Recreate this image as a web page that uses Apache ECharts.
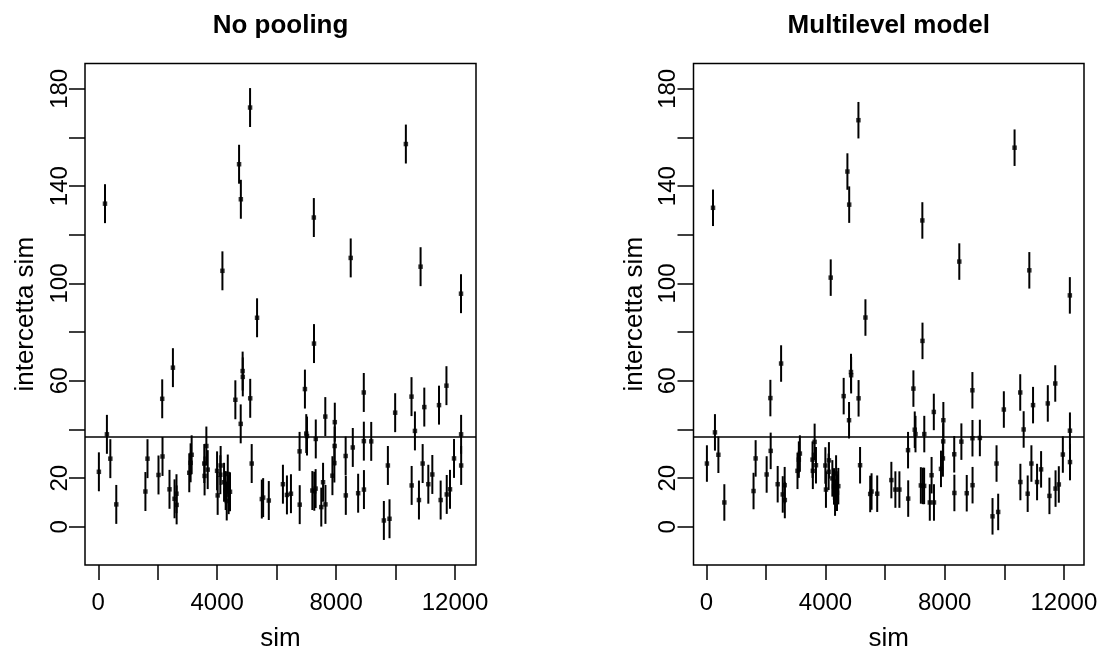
<!DOCTYPE html>
<html>
<head>
<meta charset="utf-8">
<title>intercetta sim</title>
<script src="https://cdn.jsdelivr.net/npm/echarts@6/dist/echarts.min.js"></script>
<style>
  html, body { margin: 0; padding: 0; background: #fff; }
  #chart { width: 1107px; height: 654px; }
</style>
</head>
<body>
<div id="chart"></div>
<script>
// Simulation index of each group (shared by both panels)
const sim = [
  20, 225, 290, 405, 605, 1585, 1655, 2025, 2150, 2160,
  2395, 2510, 2565, 2630, 2635, 3060, 3105, 3140, 3565, 3575,
  3635, 3680, 3995, 4015, 4105, 4115, 4175, 4230, 4285, 4320,
  4355, 4385, 4430, 4610, 4735, 4790, 4795, 4855, 4860, 5105,
  5110, 5160, 5340, 5500, 5545, 5735, 6210, 6345, 6480, 6770,
  6775, 6950, 6995, 7020, 7200, 7250, 7255, 7265, 7310, 7315,
  7500, 7560, 7635, 7640, 7875, 7940, 7950, 7955, 8320, 8325,
  8490, 8560, 8740, 8930, 8932, 8935, 9180, 9605, 9740, 9795,
  9985, 10345, 10535, 10540, 10650, 10785, 10840, 10910, 10965, 11100,
  11235, 11460, 11515, 11710, 11720, 11830, 11965, 12200, 12203, 12205
];

// No pooling: intercept estimate per group
const noPooling = [
  22.6, 132.8, 38.0, 28.0, 9.2, 14.5, 28.0, 21.3, 52.6, 28.9,
  15.4, 65.4, 11.5, 13.6, 9.0, 22.2, 26.3, 29.6, 26.0, 20.9,
  33.2, 23.5, 23.0, 12.9, 21.4, 25.2, 105.2, 18.3, 14.9, 10.6,
  21.7, 13.2, 14.4, 52.2, 149.0, 42.3, 134.6, 64.0, 61.6, 172.3,
  52.8, 26.0, 85.9, 11.4, 12.0, 10.8, 17.5, 13.1, 13.6, 31.0,
  9.1, 56.6, 38.3, 37.3, 14.9, 127.1, 75.3, 14.6, 15.7, 36.1,
  8.1, 18.3, 45.3, 9.2, 21.0, 26.2, 33.2, 43.0, 29.1, 12.9,
  110.5, 32.6, 13.8, 55.2, 35.2, 15.3, 35.1, 2.6, 25.2, 3.3,
  46.9, 157.3, 53.5, 17.0, 39.4, 11.0, 106.9, 26.0, 49.2, 17.5,
  21.5, 50.0, 11.0, 58.0, 13.3, 15.4, 28.1, 95.8, 38.0, 25.2
];

// Multilevel model: intercept estimate per group
const multilevel = [
  26.0, 131.1, 38.8, 29.6, 10.0, 14.7, 28.1, 21.5, 52.9, 31.2,
  17.5, 67.1, 13.3, 17.1, 11.0, 23.0, 27.6, 30.1, 27.6, 23.0,
  34.9, 25.3, 25.2, 15.3, 22.6, 27.3, 102.4, 19.9, 16.6, 12.0,
  21.9, 14.0, 16.7, 53.7, 146.0, 43.8, 132.4, 63.6, 62.3, 167.1,
  52.8, 25.3, 86.0, 13.5, 14.5, 13.6, 19.2, 15.3, 15.3, 31.5,
  11.6, 56.8, 39.9, 38.1, 17.0, 125.9, 76.4, 16.8, 16.8, 38.1,
  10.0, 21.2, 47.2, 10.0, 23.8, 28.1, 35.1, 43.8, 29.8, 13.9,
  109.0, 35.0, 13.8, 56.1, 36.4, 17.1, 36.5, 4.3, 26.0, 6.1,
  48.2, 155.8, 55.2, 18.4, 40.0, 13.6, 105.4, 26.0, 50.0, 18.4,
  23.6, 50.7, 12.7, 58.9, 15.7, 17.4, 29.7, 95.1, 39.5, 26.6
];

// Half-length of each vertical interval (estimate +/- 1 se)
const noPoolingSe = 8;
const multilevelSe = 7.5;

// Reference line (overall mean intercept)
const refLine = 37;

// Axis ticks and the ticks that carry a label
const xTicks = [0, 2000, 4000, 6000, 8000, 10000, 12000];
const xLabels = [0, 4000, 8000, 12000];
const yTicks = [0, 20, 40, 60, 80, 100, 120, 140, 160, 180];
const yLabels = [0, 20, 60, 100, 140, 180];

const panelTitles = ['No pooling', 'Multilevel model'];
const xName = 'sim';
const yName = 'intercetta sim';

const FONT = '"Liberation Sans", Arial, Helvetica, sans-serif';

const grids = [
  { left: 85, top: 63.5, width: 391, height: 501.5 },
  { left: 693.5, top: 63.5, width: 390.5, height: 501.5 }
];
const xRanges = [[-447, 12704], [-430, 12675]];
const yRange = [-15.7, 190.4];

function intervals(est, se) {
  return sim.map((s, i) => [s, est[i] - se, est[i] + se]);
}
function points(est) {
  return sim.map((s, i) => [s, est[i]]);
}

function errorBarRender(params, api) {
  const x = api.value(0);
  const a = api.coord([x, api.value(1)]);
  const b = api.coord([x, api.value(2)]);
  return {
    type: 'line',
    shape: { x1: a[0], y1: a[1], x2: b[0], y2: b[1] },
    style: { stroke: '#000', lineWidth: 2 }
  };
}

const plain = v => String(v);

function makeXAxis(i) {
  return {
    type: 'value', gridIndex: i, position: 'bottom',
    min: xRanges[i][0], max: xRanges[i][1],
    splitLine: { show: false },
    axisLine: { show: false, onZero: false },
    axisTick: { show: true, length: 15, customValues: xTicks,
                lineStyle: { color: '#000', width: 1.5 } },
    axisLabel: { customValues: xLabels, formatter: plain, color: '#000', fontSize: 24,
                 fontFamily: FONT, margin: 26 },
    name: xName, nameLocation: 'middle', nameGap: 61,
    nameTextStyle: { color: '#000', fontSize: 26, fontFamily: FONT }
  };
}
function makeYAxis(i) {
  return {
    type: 'value', gridIndex: i, position: 'left',
    min: yRange[0], max: yRange[1],
    splitLine: { show: false },
    axisLine: { show: false, onZero: false },
    axisTick: { show: true, length: 16, customValues: yTicks,
                lineStyle: { color: '#000', width: 1.5 } },
    axisLabel: { customValues: yLabels, formatter: plain, color: '#000', fontSize: 24,
                 fontFamily: FONT, rotate: 90, margin: 13 },
    name: yName, nameLocation: 'middle', nameGap: 46, nameRotate: 90,
    nameTextStyle: { color: '#000', fontSize: 26, fontFamily: FONT }
  };
}

const estimates = [noPooling, multilevel];
const ses = [noPoolingSe, multilevelSe];

const series = [];
[0, 1].forEach(i => {
  series.push({
    type: 'custom', xAxisIndex: i, yAxisIndex: i,
    renderItem: errorBarRender,
    encode: { x: 0, y: [1, 2] },
    data: intervals(estimates[i], ses[i]),
    silent: true, z: 2
  });
  series.push({
    type: 'scatter', xAxisIndex: i, yAxisIndex: i,
    symbol: 'rect', symbolSize: 4.5,
    itemStyle: { color: '#000' },
    data: points(estimates[i]),
    silent: true, z: 3,
    markLine: {
      silent: true, symbol: ['none', 'none'],
      label: { show: false },
      lineStyle: { color: '#000', width: 1.5, type: 'solid' },
      data: [{ yAxis: refLine }]
    }
  });
});

const chart = echarts.init(document.getElementById('chart'), null, { renderer: 'canvas' });
chart.setOption({
  animation: false,
  backgroundColor: '#fff',
  title: panelTitles.map((t, i) => ({
    text: t,
    left: grids[i].left + grids[i].width / 2,
    top: 13,
    padding: 0,
    textAlign: 'center',
    textStyle: { color: '#000', fontSize: 26, fontWeight: 'bold', fontFamily: FONT }
  })),
  grid: grids.map(g => Object.assign({
    show: true, borderColor: '#000', borderWidth: 1.5,
    backgroundColor: 'transparent', containLabel: false, outerBoundsMode: 'none'
  }, g)),
  xAxis: [makeXAxis(0), makeXAxis(1)],
  yAxis: [makeYAxis(0), makeYAxis(1)],
  series: series
});
</script>
</body>
</html>
